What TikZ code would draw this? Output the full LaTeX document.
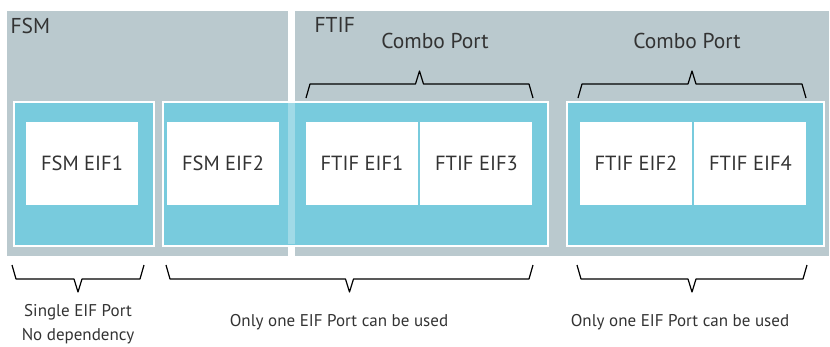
\documentclass[tikz,border=0pt]{standalone}
\usepackage{fontspec}
\setmainfont{PT Sans}
\usetikzlibrary{positioning}
\definecolor{panelgrey}{HTML}{BAC9CE}
\definecolor{portblue}{HTML}{78CBDD}
\definecolor{txtgrey}{HTML}{333333}

\tikzset{
  panel/.style={fill=panelgrey, draw=none, anchor=north west, inner sep=0pt},
  portbox/.style={fill=portblue, draw=white, line width=1.5pt, anchor=north west, inner sep=0pt},
  eifbox/.style={fill=white, minimum width=112pt, minimum height=83pt, inner sep=0pt,
    text=txtgrey, font=\fontsize{20.5}{24}\selectfont},
  lbl/.style={text=txtgrey, font=\fontsize{17}{24}\selectfont, align=center},
  title/.style={text=txtgrey, font=\fontsize{21.5}{24}\selectfont},
  bracket/.style={line width=1.2pt, line join=round, black}
}

% angular brace: x1, x2, y of the ends, direction (+1 down, -1 up)
\newcommand{\portbrace}[4]{%
  \draw[bracket] (#1,#3) -- ({#1+4},{#3+14*#4}) -- ({(#1+#2)/2-4},{#3+14*#4})
    -- ({(#1+#2)/2},{#3+27*#4}) -- ({(#1+#2)/2+4},{#3+14*#4})
    -- ({#2-4},{#3+14*#4}) -- (#2,#3);}

\begin{document}
\begin{tikzpicture}[x=1pt, y=-1pt]
    \useasboundingbox (0,0) rectangle (830,346);

    % Boards
    \node[panel, minimum width=281pt, minimum height=245pt] (fsm) at (7,11) {};
    \node[panel, minimum width=534pt, minimum height=245pt] (ftif) at (295,11) {};
    \node[title, anchor=west] (fsmlbl) at (7,26) {FSM};
    \node[title, anchor=west] (ftiflbl) at (311,25) {FTIF};

    % Ports
    \node[portbox, minimum width=140pt, minimum height=144pt] (port1) at (13,101) {};
    \node[portbox, minimum width=385pt, minimum height=144pt] (port2) at (162,101) {};
    \node[portbox, minimum width=257pt, minimum height=144pt] (port3) at (566,101) {};
    % port 2 crosses the gap between the boards
    \fill[white, opacity=0.3] (288,102) rectangle (295,244);

    % EIFs
    \node[eifbox] (fsmeif1) at (82,163.5) {FSM EIF1};
    \node[eifbox] (fsmeif2) at (223,163.5) {FSM EIF2};
    \node[eifbox] (ftifeif1) at (362,163.5) {FTIF EIF1};
    \node[eifbox, right=2pt of ftifeif1] (ftifeif3) {FTIF EIF3};
    \node[eifbox] (ftifeif2) at (636,163.5) {FTIF EIF2};
    \node[eifbox, right=2pt of ftifeif2] (ftifeif4) {FTIF EIF4};

    % Combo ports
    \portbrace{306}{533}{98}{-1}
    \portbrace{578}{806}{98}{-1}
    \node[title] (combo1) at (435,41) {Combo Port};
    \node[title] (combo2) at (687,41) {Combo Port};

    % Usage notes
    \portbrace{12}{144}{265}{1}
    \portbrace{166}{533}{265}{1}
    \portbrace{577}{807}{265}{1}
    \node[lbl] (single) at (78,324) {Single EIF Port\\No dependency};
    \node[lbl] (onlyone1) at (339,322) {Only one EIF Port can be used};
    \node[lbl] (onlyone2) at (680,322) {Only one EIF Port can be used};
\end{tikzpicture}
\end{document}
